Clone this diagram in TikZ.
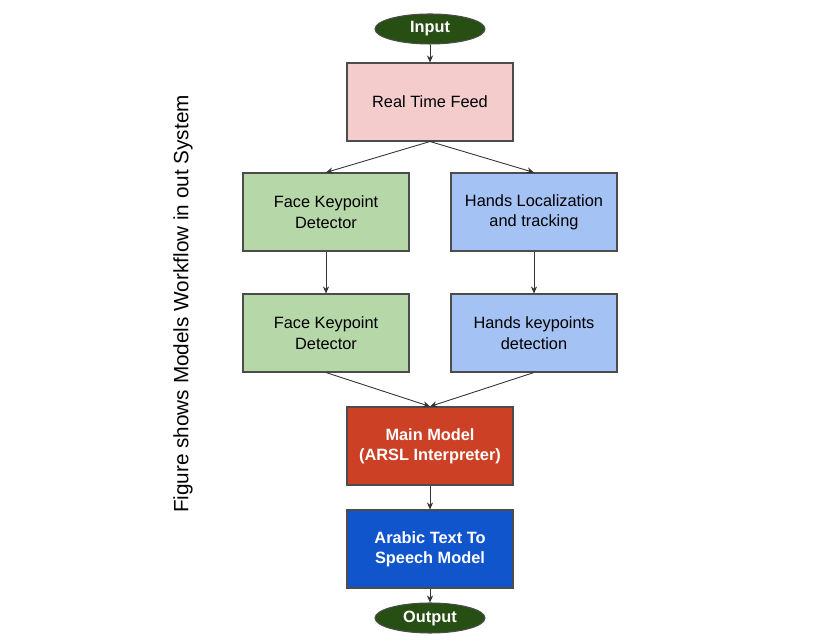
\documentclass[tikz,border=0pt]{standalone}
\usepackage{fontspec}
\setmainfont{Liberation Sans}
\usetikzlibrary{arrows.meta,shapes.geometric}

\definecolor{feedpink}{HTML}{F4CCCC}
\definecolor{facegreen}{HTML}{B6D7A8}
\definecolor{handblue}{HTML}{A4C2F4}
\definecolor{modelred}{HTML}{CC4125}
\definecolor{speechblue}{HTML}{1155CC}
\definecolor{termgreen}{HTML}{274E13}

\tikzset{
  block/.style={draw=black!70, line width=0.6pt, minimum width=3.32cm,
    minimum height=1.56cm, align=center, font=\fontsize{9.3}{11.6}\selectfont},
  darkblock/.style={block, text=white, font=\fontsize{9.3}{11.6}\selectfont\bfseries},
  terminal/.style={ellipse, draw=black!70, line width=0.6pt, fill=termgreen,
    minimum width=2.2cm, minimum height=0.6cm, inner sep=0pt, text=white,
    font=\fontsize{9.3}{11.6}\selectfont\bfseries},
}

\begin{document}
\begin{tikzpicture}
    \useasboundingbox (0,0) rectangle (16.54,12.82);
    %% Draw the nodes
    \node[terminal] (In) at (8.6,12.24) {Input};
    \node[block, fill=feedpink] (Feed) at (8.6,10.78) {Real Time Feed};
    \node[block, fill=facegreen] (FaceA) at (6.52,8.58) {Face Keypoint\\Detector};
    \node[block, fill=handblue] (HandA) at (10.68,8.58) {Hands Localization\\and tracking};
    \node[block, fill=facegreen] (FaceB) at (6.52,6.16) {Face Keypoint\\Detector};
    \node[block, fill=handblue] (HandB) at (10.68,6.16) {Hands keypoints\\detection};
    \node[darkblock, fill=modelred] (Main) at (8.6,3.9) {Main Model\\(ARSL Interpreter)};
    \node[darkblock, fill=speechblue] (TTS) at (8.6,1.84) {Arabic Text To\\Speech Model};
    \node[terminal] (Out) at (8.6,0.46) {Output};
    %% Draw the caption
    \node[rotate=90, font=\fontsize{11.8}{14}\selectfont] (Cap) at (3.66,6.74)
      {Figure shows Models Workflow in out System};
    %% Draw the edges
    \begin{scope}[every path/.style={-{Stealth[length=4pt,width=3.5pt]}, draw=black!80, line width=0.5pt}]
      \draw (In) -- (Feed);
      \draw (Feed.south) -- (FaceA.north);
      \draw (Feed.south) -- (HandA.north);
      \draw (FaceA) -- (FaceB);
      \draw (HandA) -- (HandB);
      \draw (FaceB.south) -- (Main.north);
      \draw (HandB.south) -- (Main.north);
      \draw (Main) -- (TTS);
      \draw (TTS) -- (Out);
    \end{scope}
  \end{tikzpicture}
\end{document}
